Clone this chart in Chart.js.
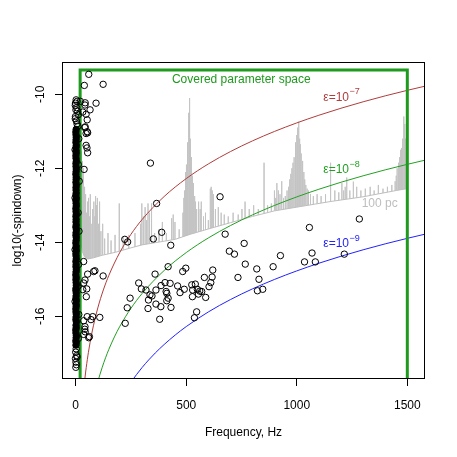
<!DOCTYPE html>
<html><head><meta charset="utf-8">
<script src="https://cdn.jsdelivr.net/npm/chart.js@4/dist/chart.umd.min.js"></script>
<style>html,body{margin:0;padding:0;background:#fff}canvas{display:block}</style>
</head><body>
<canvas id="c" width="457" height="457"></canvas>
<script>
// ---------------- data ----------------
const xTicks = [0, 500, 1000, 1500];
const yTicks = [-16, -14, -12, -10];

// pulsars (open circles): GW frequency (Hz) and log10(-spindown)
const pulsarFreq = [59,39,124,92,65,43,21,6,47,41,54,51,54,38,42,52,32,9,-2,-2,6,43,47,47,52,
  2,-1,4,1,12,-1,3,10,14,-3,12,16,-3,11,15,-3,13,10,-3,14,12,
  2,0,4,-1,6,1,3,0.5,
  36,54,81,124,32,48,36,109,69,36,41,59,36,43,87,42,50,52,77,42,62,
  338,366,653,389,351,430,676,762,695,718,767,819,829,734,822,846,893,926,1057,1069,1035,1084,1283,1215,222,235,
  418,359,498,484,620,617,582,611,603,285,318,363,345,329,327,363,385,431,380,386,404,427,412,409,418,412,461,472,491,525,541,529,528,550,555,570,588,547,537,297,246,233,224,336,561];
const pulsarLog = [-9.46,-9.76,-9.73,-10.24,-10.42,-10.23,-10.19,-10.19,-10.54,-10.9,-11.04,-11.45,-11.58,-12.03,-10.29,-10.69,-10.48,-10.46,-10.3,-10.66,-10.8,-10.88,-11.06,-11.38,-11.01,
  -10.15,-10.24,-10.36,-10.42,-10.55,-10.6,-10.72,-10.86,-11.2,-11.5,-11.9,-12.35,-12.8,-13.2,-13.7,-14.2,-14.6,-15.2,-15.6,-15.95,-16.6,
  -16.88,-16.97,-17.06,-17.14,-17.1,-17.24,-17.31,-17.38,
  -14.52,-14.86,-14.79,-14.91,-15.28,-15.47,-15.1,-16.03,-16.09,-16.12,-16.35,-16.58,-16.49,-16.42,-14.77,-15.02,-15.26,-16.01,-16.01,-16.28,-16.55,
  -11.86,-12.95,-12.77,-13.73,-13.91,-14.08,-13.78,-14.03,-14.24,-14.32,-14.59,-14.72,-15.0,-14.95,-15.31,-15.27,-14.66,-14.36,-13.6,-14.29,-14.53,-14.53,-13.37,-14.32,-13.92,-13.99,
  -14.66,-14.86,-14.70,-14.79,-14.75,-14.94,-14.95,-15.09,-15.2,-15.1,-15.29,-15.29,-15.45,-15.56,-15.79,-15.67,-15.74,-15.76,-16.08,-15.17,-15.09,-15.11,-15.38,-15.33,-15.51,-15.58,-15.18,-15.36,-15.27,-15.15,-15.13,-15.29,-15.47,-15.27,-15.40,-15.33,-15.49,-15.88,-16.04,-15.26,-15.51,-15.77,-16.19,-15.42,-15.32];

// dense low-frequency pulsar population (overlapping, appears solid)
const coreFreq = [1.2,2.4,0.8,1.9,2.8,1.1,0.6,2.2,1.5,2.9,0.9,1.7,2.5,1.3,0.7,2.1,1.6,2.7,1.0,1.8,2.3,0.8,1.4,2.6,1.9,1.1,2.2,0.6,1.5,2.8,1.2,1.9,0.9,2.4,1.6,1.0,2.7,1.3,2.0,0.7,1.8,2.5,1.1,1.6,2.9,0.8,2.2,1.4,1.9,1.0,2.6,1.5,0.7,2.3,1.8,1.2,2.8,0.9,2.0,1.6,1.3,2.5,1.0,1.9,2.2,0.8,1.7,2.4,1.4,1.1,2.7,1.6,0.9,2.1,1.8,1.2,2.5,1.0,1.7,2.3,1.4,0.8,2.0];
const coreLog = [-16.78,-16.71,-16.66,-16.58,-16.52,-16.45,-16.37,-16.31,-16.24,-16.15,-16.09,-16.02,-15.94,-15.88,-15.8,-15.73,-15.67,-15.58,-15.52,-15.45,-15.37,-15.3,-15.24,-15.16,-15.09,-15.01,-14.95,-14.88,-14.8,-14.73,-14.66,-14.6,-14.52,-14.45,-14.37,-14.31,-14.23,-14.16,-14.1,-14.02,-13.95,-13.87,-13.81,-13.74,-13.66,-13.59,-13.53,-13.45,-13.38,-13.3,-13.24,-13.17,-13.09,-13.02,-12.95,-12.88,-12.81,-12.73,-12.67,-12.59,-12.52,-12.45,-12.38,-12.3,-12.24,-12.16,-12.09,-12.02,-11.95,-11.87,-11.81,-11.73,-11.66,-11.59,-11.52,-11.44,-11.38,-11.3,-11.23,-11.16,-11.09,-11.02,-10.95];

// spindown limit curves for ellipticity 1e-7, 1e-8, 1e-9
const eps7Freq = [41,45,50,55,60,70,80,100,125,150,200,250,300,400,500,600,700,800,900,1000,1100,1200,1300,1400,1500,1600];
const eps7Log = [-17.709,-17.507,-17.278,-17.071,-16.882,-16.548,-16.258,-15.773,-15.288,-14.893,-14.268,-13.783,-13.387,-12.763,-12.278,-11.882,-11.548,-11.258,-11.002,-10.773,-10.566,-10.377,-10.203,-10.042,-9.893,-9.752];
const eps8Freq = [100,105,110,120,135,150,175,200,250,300,400,500,600,700,800,900,1000,1100,1200,1300,1400,1500,1600];
const eps8Log = [-17.773,-17.667,-17.566,-17.377,-17.121,-16.893,-16.558,-16.268,-15.783,-15.387,-14.763,-14.278,-13.882,-13.548,-13.258,-13.002,-12.773,-12.566,-12.377,-12.203,-12.042,-11.893,-11.752];
const eps9Freq = [250,262,275,300,330,360,400,450,500,600,700,800,900,1000,1100,1200,1300,1400,1500,1600];
const eps9Log = [-17.783,-17.682,-17.577,-17.387,-17.180,-16.991,-16.763,-16.507,-16.278,-15.882,-15.548,-15.258,-15.002,-14.773,-14.566,-14.377,-14.203,-14.042,-13.893,-13.752];

// 100 pc sensitivity curve: smooth floor + spectral-line spikes
const floorFreq = [10,15,20,24,30,40,55,80,120,180,250,300,400,450,520,600,700,800,900,1000,1150,1300,1450,1499];
const floorLog = [-11.0,-12.2,-13.4,-14.0,-14.25,-14.4,-14.45,-14.42,-14.35,-14.27,-14.15,-14.07,-13.97,-13.92,-13.78,-13.64,-13.47,-13.3,-13.15,-13.05,-12.9,-12.77,-12.6,-12.55];
const lineFreq = [21,23,25,27,29,31,33,35,37,39,41,43,46,49,52,55,58,62,66,70,74,78,82,86,90,94,98,103,108,114,122,
  131,146,160,178,197,215,240,268,293,299,306,314,321,327,334,343,357,377,392,410,434,441,449,468,
  485,489,492,495,498,501,504,507,510,512,514,516,518,520,522,525,528,531,534,538,542,547,556,563,568,578,587,600,609,613,618,623,632,645,658,672,690,712,735,752,766,785,805,826,852,868,885,899,905,910,917,924,932,940,948,956,963,968,973,978,983,988,992,996,1000,1004,1007,1010,1013,1016,1020,1024,1028,1032,1036,1041,1047,1053,1062,1075,1092,1110,1130,1153,1172,1190,1204,1212,1219,1226,1240,1256,1271,1290,1310,1332,1350,1369,1390,1410,1430,1445,1450,1454,1458,1462,1465,1468,1471,1474,1477,1480,1483,1485,1487,1489,1491,1493,1495,1497,1499];
const lineTop = [-11.6,-11.9,-11.55,-12.1,-11.8,-12.4,-12.0,-12.6,-12.2,-12.8,-12.5,-13.0,-12.7,-13.2,-12.9,-13.4,-12.8,-13.3,-12.7,-13.5,-13.1,-13.6,-12.9,-13.3,-12.75,-13.0,-12.8,-13.5,-12.9,-13.7,-13.5,
  -13.9,-13.75,-13.95,-13.8,-12.95,-13.85,-13.8,-13.75,-13.5,-12.95,-13.3,-13.05,-13.4,-12.95,-13.2,-12.95,-13.75,-13.65,-13.45,-13.75,-13.35,-13.25,-13.45,-13.65,
  -13.2,-12.8,-12.6,-12.3,-12.1,-11.9,-11.6,-11.3,-10.9,-10.5,-10.1,-10.8,-11.2,-11.4,-11.7,-12.0,-12.2,-12.4,-12.6,-12.75,-12.9,-13.1,-12.9,-13.1,-12.9,-13.3,-13.2,-13.4,-12.55,-12.5,-12.6,-12.7,-13.1,-13.05,-13.2,-13.25,-13.3,-13.2,-13.25,-13.1,-12.9,-13.1,-13.0,-13.1,-11.85,-13.0,-12.95,-12.6,-12.8,-12.4,-12.6,-12.7,-12.35,-12.8,-12.75,-12.6,-12.5,-12.3,-12.15,-12.0,-11.85,-11.7,-11.5,-11.3,-11.1,-10.9,-10.74,-11.0,-11.2,-11.35,-11.6,-11.8,-12.0,-12.1,-12.3,-12.45,-12.55,-12.6,-12.7,-12.75,-12.7,-12.75,-12.7,-11.85,-12.6,-12.65,-12.4,-12.6,-12.5,-12.25,-12.6,-12.36,-12.5,-12.6,-12.55,-12.5,-12.6,-12.45,-12.55,-12.5,-12.45,-12.35,-12.2,-12.0,-11.85,-11.9,-11.7,-11.75,-11.5,-11.45,-11.3,-11.2,-10.9,-10.6,-10.8,-11.0,-11.2,-11.4,-11.7,-12.0,-12.3];

// covered parameter space box
const boxFreq = [20, 20, 1500, 1500];
const boxLog = [-18, -9.34, -9.34, -18];

// text annotations
const epsLabels = [
  {exp: '\u22127', f: 1120, y: -10.08, color: '#B03C3C'},
  {exp: '\u22128', f: 1120, y: -12.05, color: '#22A022'},
  {exp: '\u22129', f: 1120, y: -14.05, color: '#2222FF'}
];

// ---------------- build ----------------
const FONT = '"Liberation Sans", Arial, Helvetica, sans-serif';
const pts = (xs, ys) => xs.slice(0, Math.min(xs.length, ys.length)).map((v, i) => ({x: v, y: ys[i]}));
const LOW = -18;
const spikeData = [];
lineFreq.forEach((f, i) => { spikeData.push({x: f, y: LOW}, {x: f, y: lineTop[i]}, {x: f, y: LOW}); });

const lineDs = (data, color, width, order, extra) => Object.assign({
  type: 'line', data, borderColor: color, borderWidth: width, pointRadius: 0,
  fill: false, tension: 0, order
}, extra || {});

const deco = {
  id: 'deco',
  afterDraw(chart) {
    const {ctx, chartArea: a, scales: {x, y}} = chart;
    ctx.save();
    ctx.strokeStyle = '#000'; ctx.lineWidth = 1;
    ctx.strokeRect(Math.round(a.left) + 0.5, Math.round(a.top) + 0.5,
                   Math.round(a.right - a.left) - 1, Math.round(a.bottom - a.top) - 1);
    ctx.fillStyle = '#000';
    ctx.font = '12px ' + FONT;
    ctx.textAlign = 'center'; ctx.textBaseline = 'middle';
    yTicks.forEach(v => {
      ctx.save(); ctx.translate(41, y.getPixelForValue(v)); ctx.rotate(-Math.PI / 2);
      ctx.fillText(String(v), 0, 0); ctx.restore();
    });
    ctx.save(); ctx.translate(18, (a.top + a.bottom) / 2); ctx.rotate(-Math.PI / 2);
    ctx.fillText('log10(-spindown)', 0, 0); ctx.restore();
    ctx.fillText('Frequency, Hz', (a.left + a.right) / 2, 433);

    // annotations
    ctx.fillStyle = '#1E9A1E';
    ctx.fillText('Covered parameter space', x.getPixelForValue(749), y.getPixelForValue(-9.614));
    ctx.fillStyle = '#BEBEBE';
    ctx.fillText('100 pc', x.getPixelForValue(1375), y.getPixelForValue(-12.965));
    ctx.textAlign = 'left';
    epsLabels.forEach(l => {
      const px = x.getPixelForValue(l.f), py = y.getPixelForValue(l.y);
      ctx.fillStyle = l.color;
      ctx.font = '12px ' + FONT;
      ctx.fillText('\u03b5=10', px, py);
      const w = ctx.measureText('\u03b5=10').width;
      ctx.font = '9px ' + FONT;
      ctx.fillText(l.exp, px + w + 0.5, py - 6);
    });
    ctx.restore();
  }
};

new Chart(document.getElementById('c'), {
  type: 'scatter',
  data: {
    datasets: [
      {label: 'core', data: pts(coreFreq, coreLog), pointRadius: 3.2, borderWidth: 1,
       borderColor: '#000', backgroundColor: '#000', order: 1},
      {label: 'pulsars', data: pts(pulsarFreq, pulsarLog), pointRadius: 3.2, borderWidth: 1,
       borderColor: '#000', backgroundColor: 'rgba(0,0,0,0)', order: 2},
      lineDs(pts(boxFreq, boxLog), '#1E9A1E', 3, 4),
      lineDs(pts(eps7Freq, eps7Log), '#B03C3C', 1, 5, {cubicInterpolationMode: 'monotone'}),
      lineDs(pts(eps8Freq, eps8Log), '#22A022', 1, 5, {cubicInterpolationMode: 'monotone'}),
      lineDs(pts(eps9Freq, eps9Log), '#2222FF', 1, 5, {cubicInterpolationMode: 'monotone'}),
      lineDs(pts(floorFreq, floorLog), '#BEBEBE', 1, 9, {fill: 'start', backgroundColor: '#ffffff'}),
      lineDs(spikeData, '#C4C4C4', 1, 10, {borderJoinStyle: 'bevel'})
    ]
  },
  options: {
    responsive: false, animation: false, devicePixelRatio: 1,
    layout: {padding: {left: 0, right: 32, top: 62, bottom: 0}},
    plugins: {legend: {display: false}, tooltip: {enabled: false}},
    scales: {
      x: {
        type: 'linear', min: -62, max: 1580,
        afterBuildTicks: s => { s.ticks = xTicks.map(v => ({value: v})); },
        afterFit: s => { s.height = 78; },
        border: {display: false},
        grid: {display: true, drawOnChartArea: false, drawTicks: true, tickLength: 7, color: '#000', tickColor: '#000'},
        ticks: {color: '#000', font: {size: 12, family: FONT}, padding: 12, maxRotation: 0, autoSkip: false,
                callback: v => String(v)}
      },
      y: {
        type: 'linear', min: -17.695, max: -9.127,
        afterBuildTicks: s => { s.ticks = yTicks.map(v => ({value: v})); },
        afterFit: s => { s.width = 62; },
        border: {display: false},
        grid: {display: true, drawOnChartArea: false, drawTicks: true, tickLength: 7, color: '#000', tickColor: '#000'},
        ticks: {color: 'rgba(0,0,0,0)', font: {size: 12, family: FONT}}
      }
    }
  },
  plugins: [deco]
});
</script>
</body></html>
